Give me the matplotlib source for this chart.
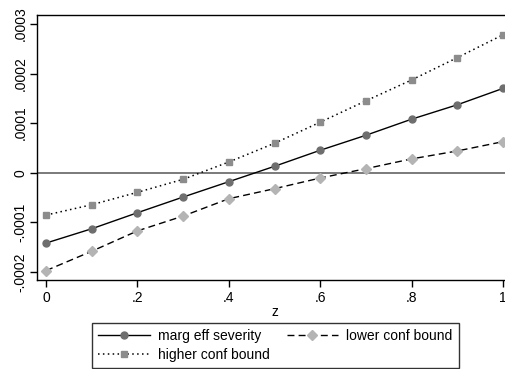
import matplotlib
matplotlib.use('Agg')
import matplotlib.pyplot as plt
from matplotlib.ticker import FixedLocator

plt.rcParams['font.family'] = ['Liberation Sans', 'DejaVu Sans']

z = [0.0, 0.1, 0.2, 0.3, 0.4, 0.5, 0.6, 0.7, 0.8, 0.9, 1.0]
marg_eff = [-0.0001415, -0.0001127, -0.0000804, -0.0000488, -0.0000179, 0.0000131,
            0.0000454, 0.0000756, 0.000108, 0.000137, 0.000170]
lower_bound = [-0.000197, -0.000158, -0.000117, -0.0000871, -0.0000522, -0.000032,
               -0.0000105, 0.0000083, 0.000028, 0.000044, 0.0000627]
upper_bound = [-0.0000851, -0.0000643, -0.0000393, -0.0000131, 0.0000218, 0.0000595,
               0.000102, 0.000145, 0.000187, 0.000232, 0.000278]

x_ticks = [0, 0.2, 0.4, 0.6, 0.8, 1.0]
x_labels = ['0', '.2', '.4', '.6', '.8', '1']
y_ticks = [-0.0002, -0.0001, 0, 0.0001, 0.0002, 0.0003]
y_labels = ['-.0002', '-.0001', '0', '.0001', '.0002', '.0003']

W, H = 505, 369
fig = plt.figure(figsize=(W / 100, H / 100), dpi=100)
fig.patch.set_facecolor('white')

# plot region in pixels: left 37, top 15, bottom 280, right runs off the image
ax = fig.add_axes([37 / W, (H - 280) / H, 475 / W, 265 / H])

ax.axhline(0, color='#7a7a7a', lw=1.4, zorder=1)

h_marg, = ax.plot(z, marg_eff, '-', color='black', lw=1.0, marker='o', ms=5,
                  markerfacecolor='#6e6e6e', markeredgecolor='#6e6e6e', zorder=3)
h_low, = ax.plot(z, lower_bound, '--', color='black', lw=1.0, dashes=(5, 3), marker='D', ms=5.5,
                 markerfacecolor='#b4b4b4', markeredgecolor='#b4b4b4', zorder=3)
h_up, = ax.plot(z, upper_bound, ':', color='black', lw=1.1, dashes=(1, 2.2), marker='s', ms=5,
                markerfacecolor='#8c8c8c', markeredgecolor='#8c8c8c', zorder=3)

ax.set_xlim(-0.02, 1.02)
ax.set_ylim(-0.000216, 0.000318)

ax.xaxis.set_major_locator(FixedLocator(x_ticks))
ax.set_xticklabels(x_labels)
ax.yaxis.set_major_locator(FixedLocator(y_ticks))
ax.set_yticklabels(y_labels, rotation=90, va='center')

ax.tick_params(axis='both', direction='out', length=5, width=1, labelsize=10, color='black')
ax.tick_params(axis='y', pad=2)
ax.tick_params(axis='x', pad=3)
for side in ['left', 'bottom', 'top', 'right']:
    ax.spines[side].set_linewidth(1.0)
    ax.spines[side].set_color('black')

ax.set_xlabel('z', fontsize=10, labelpad=0)

leg = fig.legend([h_marg, h_up, h_low],
                 ['marg eff severity', 'higher conf bound', 'lower conf bound'],
                 ncol=2, loc='lower center', bbox_to_anchor=(275.5 / W, 1 / H),
                 fontsize=10, frameon=True, fancybox=False, handlelength=3.7,
                 columnspacing=1.2, handletextpad=0.6, borderpad=0.45, labelspacing=0.35,
                 borderaxespad=0)
leg.get_frame().set_edgecolor('black')
leg.get_frame().set_linewidth(1.0)

fig.savefig('out.png', dpi=100, facecolor='white')
